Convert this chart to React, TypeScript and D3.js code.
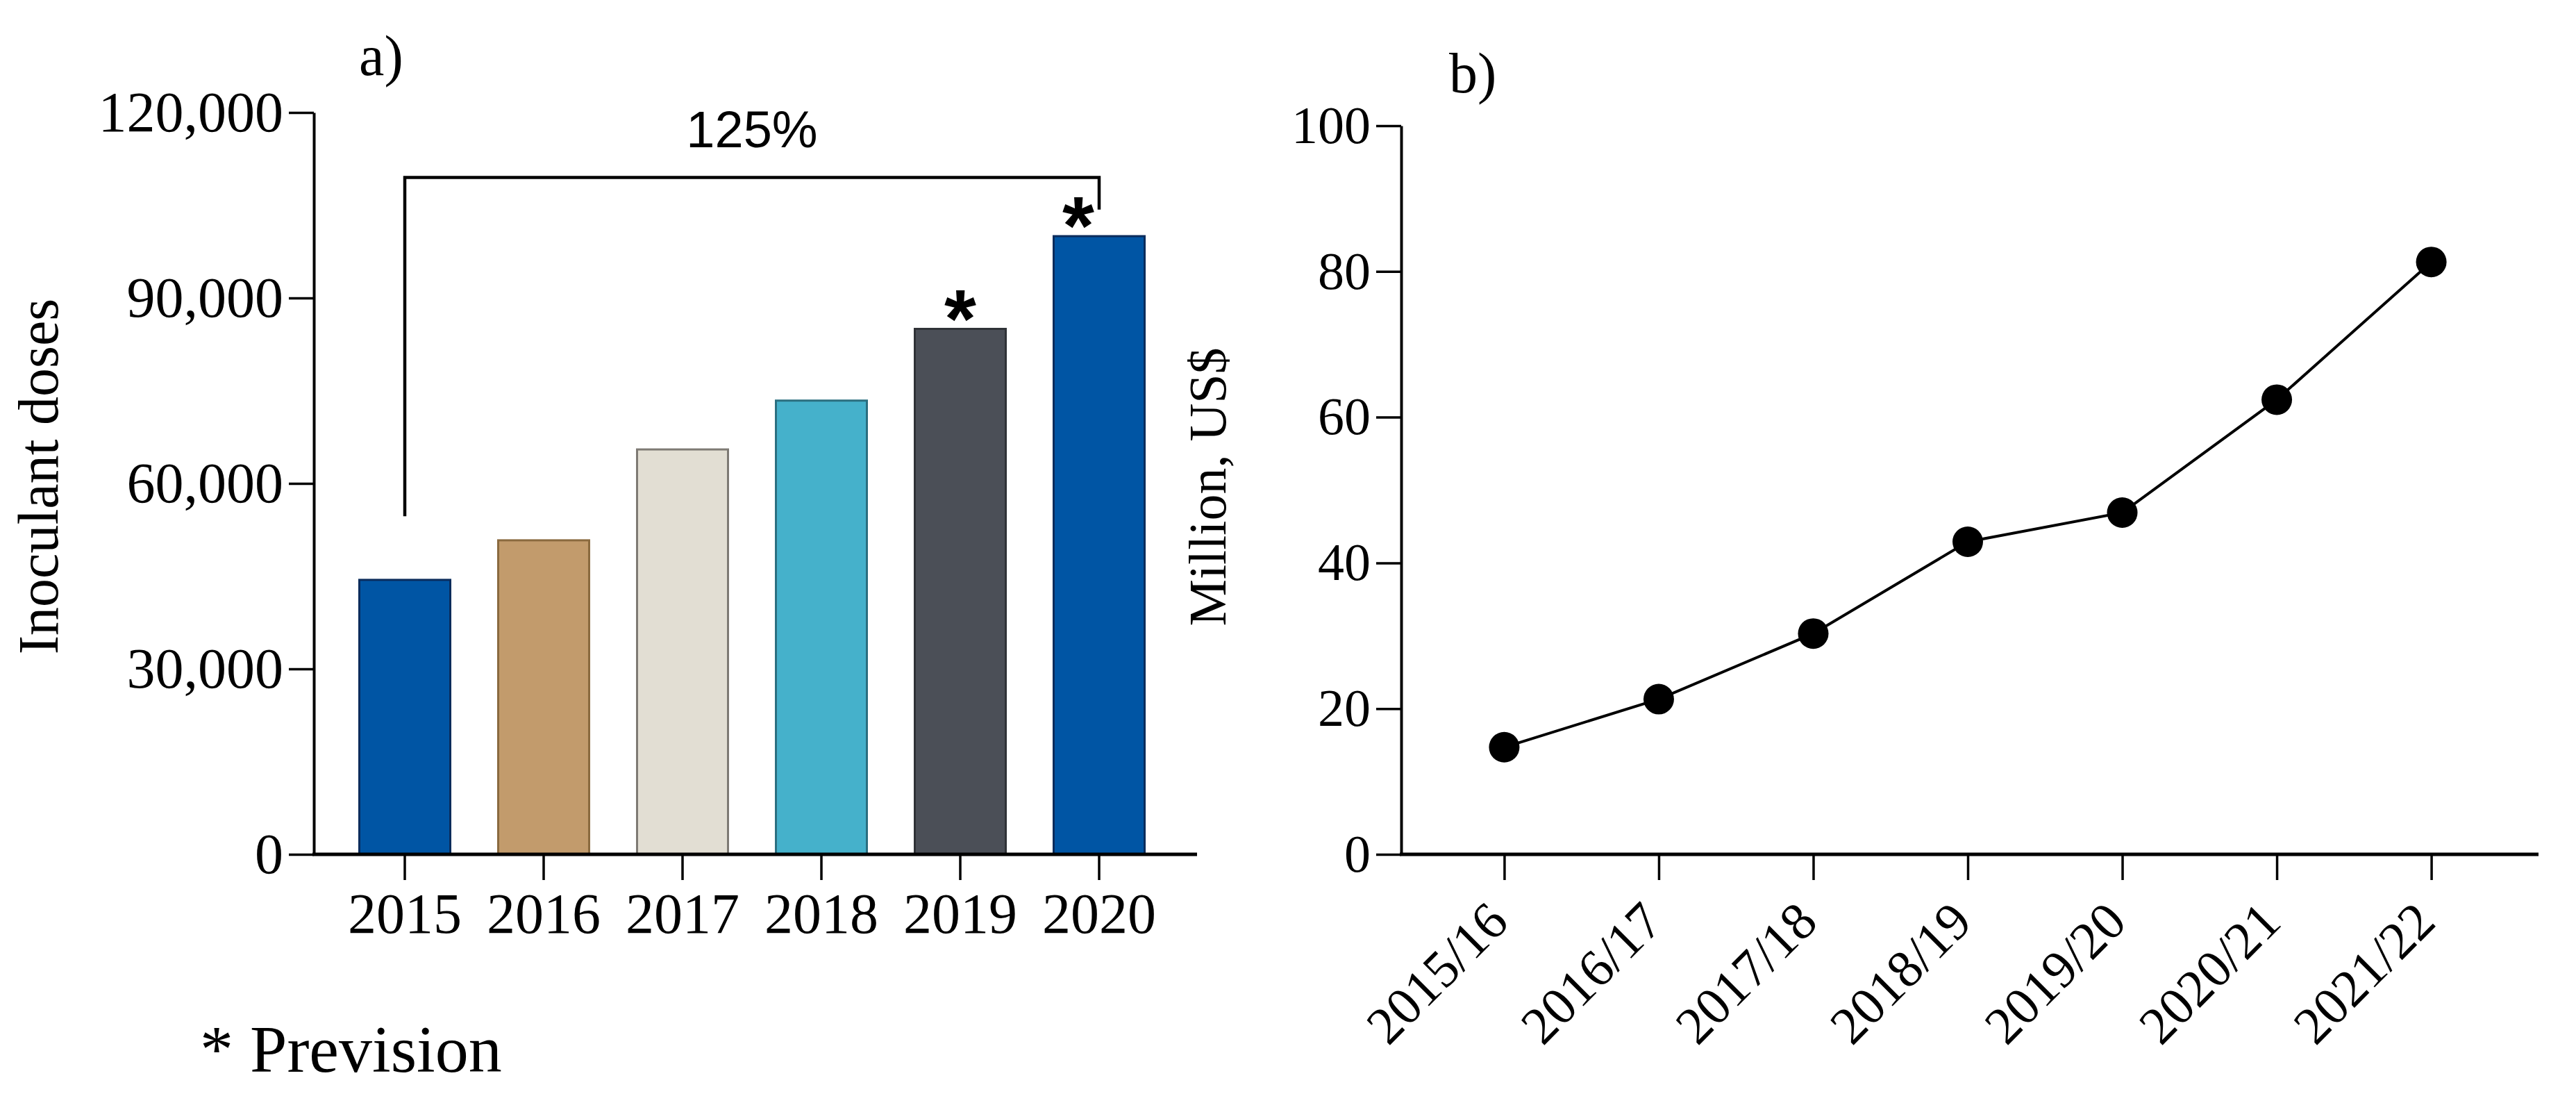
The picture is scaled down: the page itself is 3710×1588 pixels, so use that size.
import React, { useEffect, useRef } from "react";
import * as d3 from "d3";

// panel a) inoculant doses per year
const barYears = ["2015", "2016", "2017", "2018", "2019", "2020"];
const inoculantDoses = [44400, 50800, 65500, 73400, 85000, 100000];
const isPrevision = [false, false, false, false, true, true];
const barFills = ["#0055a4", "#c29b6c", "#e2ded3", "#45b1cb", "#4b4f57", "#0055a4"];
const barStrokes = ["#0b2c5c", "#8a6a3f", "#7e7a74", "#2b6f80", "#2f3237", "#0b2c5c"];
const doseTicks = [0, 30000, 60000, 90000, 120000];

// bracket 2015 -> 2020
const bracketLabel = "125%";
const bracketLevel = 109500;
const bracketLeftEnd = 54700;
const bracketRightEnd = 104300;

// panel b) market value
const seasons = ["2015/16", "2016/17", "2017/18", "2018/19", "2019/20", "2020/21", "2021/22"];
const marketValue = [14.7, 21.3, 30.3, 42.9, 46.9, 62.4, 81.3];
const valueTicks = [0, 20, 40, 60, 80, 100];

const W = 3710;
const H = 1588;
const SERIF = "'Liberation Serif', 'Times New Roman', serif";
const SANS = "'Liberation Sans', Arial, sans-serif";

const App: React.FC = () => {
  const svgRef = useRef<SVGSVGElement>(null);

  useEffect(() => {
    const svg = d3.select(svgRef.current);
    svg.selectAll("*").remove();

    // ---------- panel a ----------
    const yA = d3.scaleLinear().domain([0, 120000]).range([1230, 162]);
    const xA = d3
      .scaleBand<string>()
      .domain(barYears)
      .range([452, 1714])
      .paddingInner(0.345)
      .paddingOuter(0.3275);

    const a = svg.append("g");

    a.selectAll("rect.bar")
      .data(barYears)
      .join("rect")
      .attr("class", "bar")
      .attr("x", (d) => xA(d)!)
      .attr("y", (_, i) => yA(inoculantDoses[i]))
      .attr("width", xA.bandwidth())
      .attr("height", (_, i) => yA(0) - yA(inoculantDoses[i]))
      .attr("fill", (_, i) => barFills[i])
      .attr("stroke", (_, i) => barStrokes[i])
      .attr("stroke-width", 3);

    // asterisks (prevision)
    a.selectAll("text.star")
      .data(barYears.filter((_, i) => isPrevision[i]))
      .join("text")
      .attr("class", "star")
      .attr("x", (d) => xA(d)! + xA.bandwidth() / 2 + (d === "2020" ? -30 : 0))
      .attr("y", (d) => yA(inoculantDoses[barYears.indexOf(d)]) + 26)
      .attr("text-anchor", "middle")
      .attr("font-family", SANS)
      .attr("font-weight", "bold")
      .attr("font-size", 118)
      .text("*");

    // bracket
    const bx0 = xA(barYears[0])! + xA.bandwidth() / 2;
    const bx1 = xA(barYears[barYears.length - 1])! + xA.bandwidth() / 2;
    a.append("path")
      .attr(
        "d",
        `M${bx0},${yA(bracketLeftEnd)}V${yA(bracketLevel)}H${bx1}V${yA(bracketRightEnd)}`
      )
      .attr("fill", "none")
      .attr("stroke", "#000")
      .attr("stroke-width", 4.5);
    a.append("text")
      .attr("x", (bx0 + bx1) / 2)
      .attr("y", 212)
      .attr("text-anchor", "middle")
      .attr("font-family", SANS)
      .attr("font-size", 74)
      .text(bracketLabel);

    // y axis a
    const yAxisA = a
      .append("g")
      .attr("transform", "translate(452,0)")
      .call(
        d3
          .axisLeft(yA)
          .tickValues(doseTicks)
          .tickFormat(d3.format(",") as any)
          .tickSize(36)
          .tickSizeOuter(0)
          .tickPadding(8)
      );
    yAxisA.select(".domain").attr("stroke-width", 4);
    yAxisA.selectAll(".tick line").attr("stroke-width", 3.5);
    yAxisA
      .selectAll(".tick text")
      .attr("font-family", SERIF)
      .attr("font-size", 82)
      .attr("fill", "#000");

    // x axis a
    const xAxisA = a
      .append("g")
      .attr("transform", "translate(0,1230)")
      .call(d3.axisBottom(xA).tickSize(37).tickSizeOuter(0).tickPadding(18));
    xAxisA.select(".domain").remove();
    xAxisA.selectAll(".tick line").attr("stroke-width", 3.5);
    xAxisA
      .selectAll(".tick text")
      .attr("font-family", SERIF)
      .attr("font-size", 82)
      .attr("fill", "#000");
    a.append("line")
      .attr("x1", 450)
      .attr("x2", 1724)
      .attr("y1", yA(0))
      .attr("y2", yA(0))
      .attr("stroke", "#000")
      .attr("stroke-width", 5);

    a.append("text")
      .attr("transform", "translate(83,686) rotate(-90)")
      .attr("text-anchor", "middle")
      .attr("font-family", SERIF)
      .attr("font-size", 82)
      .text("Inoculant doses");

    a.append("text")
      .attr("x", 517)
      .attr("y", 108)
      .attr("font-family", SERIF)
      .attr("font-size", 82)
      .text("a)");

    a.append("text")
      .attr("x", 288)
      .attr("y", 1543)
      .attr("font-family", SERIF)
      .attr("font-size", 96)
      .text("* Prevision");

    // ---------- panel b ----------
    const yB = d3.scaleLinear().domain([0, 100]).range([1230, 181]);
    const xB = d3.scalePoint<string>().domain(seasons).range([2018, 3650]).padding(0.667);

    const b = svg.append("g");

    const yAxisB = b
      .append("g")
      .attr("transform", "translate(2018,0)")
      .call(d3.axisLeft(yB).tickValues(valueTicks).tickSize(36).tickSizeOuter(0).tickPadding(8));
    yAxisB.select(".domain").attr("stroke-width", 4);
    yAxisB.selectAll(".tick line").attr("stroke-width", 3.5);
    yAxisB
      .selectAll(".tick text")
      .attr("font-family", SERIF)
      .attr("font-size", 76)
      .attr("fill", "#000");

    const xAxisB = b
      .append("g")
      .attr("transform", "translate(0,1230)")
      .call(d3.axisBottom(xB).tickSize(37).tickSizeOuter(0));
    xAxisB.select(".domain").remove();
    xAxisB.selectAll(".tick line").attr("stroke-width", 3.5);
    xAxisB
      .selectAll(".tick text")
      .attr("font-family", SERIF)
      .attr("font-size", 76)
      .attr("fill", "#000")
      .attr("text-anchor", "end")
      .attr("x", 0)
      .attr("y", 0)
      .attr("dy", "0.35em")
      .attr("transform", "translate(-10,82) rotate(-45)");
    b.append("line")
      .attr("x1", 2016)
      .attr("x2", 3656)
      .attr("y1", yB(0))
      .attr("y2", yB(0))
      .attr("stroke", "#000")
      .attr("stroke-width", 5);

    const line = d3
      .line<number>()
      .x((_, i) => xB(seasons[i])!)
      .y((d) => yB(d));
    b.append("path")
      .datum(marketValue)
      .attr("d", line)
      .attr("fill", "none")
      .attr("stroke", "#000")
      .attr("stroke-width", 4);
    b.selectAll("circle")
      .data(marketValue)
      .join("circle")
      .attr("cx", (_, i) => xB(seasons[i])!)
      .attr("cy", (d) => yB(d))
      .attr("r", 22)
      .attr("fill", "#000");

    b.append("text")
      .attr("transform", "translate(1765,701) rotate(-90)")
      .attr("text-anchor", "middle")
      .attr("font-family", SERIF)
      .attr("font-size", 76)
      .text("Million, US$");

    b.append("text")
      .attr("x", 2087)
      .attr("y", 133)
      .attr("font-family", SERIF)
      .attr("font-size", 82)
      .text("b)");
  }, []);

  return (
    <svg
      ref={svgRef}
      width={W}
      height={H}
      style={{ position: "absolute", left: 0, top: 0, background: "#fff" }}
    />
  );
};

export default App;
